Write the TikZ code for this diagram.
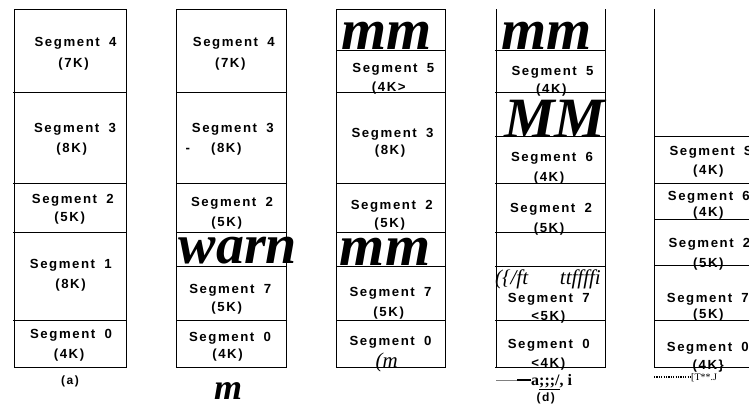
\documentclass[tikz,border=0pt]{standalone}
\usepackage{fontspec}
\newfontfamily\segf[LetterSpace=12]{Liberation Sans}
\newfontfamily\ocrf{Liberation Serif}
\newcommand\Sg[1]{Segment\ \kern4pt#1}
\tikzset{
  seg/.style={font=\segf\bfseries\fontsize{13.2}{15}\selectfont, inner sep=0pt, anchor=base},
  segw/.style={seg, anchor=base west},
  capt/.style={font=\segf\bfseries\fontsize{12}{14}\selectfont, inner sep=0pt, anchor=base},
  ocrbig/.style={font=\ocrf\bfseries\itshape\fontsize{58}{60}\selectfont, inner sep=0pt, anchor=base},
  ocrsmall/.style={font=\ocrf\itshape\fontsize{21}{23}\selectfont, inner sep=0pt, anchor=base},
  wall/.style={line width=0.9pt, line cap=rect},
}
\begin{document}
\begin{tikzpicture}[x=1pt,y=-1pt]
\clip (0,0) rectangle (749,405);
\fill[white] (0,0) rectangle (749,405);
% ---- column (a)
\draw[wall] (14,9.3) rectangle (126.7,367.3);
\foreach \yy in {92.3,183.3,232.3,320.3} \draw[wall] (13,\yy) -- (126.7,\yy);
\node[seg] (a4) at (75.5,46.5) {\Sg{4}};
\node[seg] (a4k) at (73.5,67.5) {(7K)};
\node[seg] (a3) at (75,132.5) {\Sg{3}};
\node[seg] (a3k) at (71.7,152.5) {(8K)};
\node[seg] (a2) at (72.8,203.8) {\Sg{2}};
\node[seg] (a2k) at (69.7,221.8) {(5K)};
\node[seg] (a1) at (70.8,268.5) {\Sg{1}};
\node[seg] (a1k) at (70.5,288.5) {(8K)};
\node[seg] (a0) at (71,338.5) {\Sg{0}};
\node[seg] (a0k) at (69,358.5) {(4K)};
\node[capt] (acap) at (70,384.5) {(a)};
% ---- column (b)
\draw[wall] (176.7,9.3) rectangle (286,367.3);
\foreach \yy in {92.3,183.3,232.3,266.7,320.3} \draw[wall] (176.7,\yy) -- (287,\yy);
\node[seg] (b4) at (233.8,46.5) {\Sg{4}};
\node[seg] (b4k) at (230.3,67.5) {(7K)};
\node[seg] (b3) at (232.8,132.5) {\Sg{3}};
\node[seg] (bdash) at (187.7,152.5) {-};
\node[seg] (b3k) at (226.3,152.5) {(8K)};
\node[seg] (b2) at (232,206.2) {\Sg{2}};
\node[seg] (b2k) at (226.7,226.2) {(5K)};
\node[ocrbig,font=\ocrf\bfseries\itshape\fontsize{56}{58}\selectfont] (bwarn) at (238,263) {warn};
\node[seg] (b7) at (230.2,293.2) {\Sg{7}};
\node[seg] (b7k) at (226.7,311.2) {(5K)};
\node[seg] (b0) at (230,341.8) {\Sg{0}};
\node[seg] (b0k) at (227.5,358.5) {(4K)};
\node[ocrbig,font=\ocrf\bfseries\itshape\fontsize{36}{38}\selectfont] (bm) at (228,399) {m};
% ---- column (c)
\draw[wall] (336,9.3) rectangle (445.7,367.3);
\foreach \yy in {50.7,92.3,183.3,232.3,266.7,320.3} \draw[wall] (336,\yy) -- (445.7,\yy);
\node[ocrbig] (cmm1) at (386.7,49) {mm};
\node[seg] (c5) at (393.3,72.2) {\Sg{5}};
\node[seg] (c5k) at (388.8,91.2) {(4K>};
\node[seg] (c3) at (392.5,137.8) {\Sg{3}};
\node[seg] (c3k) at (390,154.2) {(8K)};
\node[seg] (c2) at (391.7,209.5) {\Sg{2}};
\node[seg] (c2k) at (389.7,227.2) {(5K)};
\node[ocrbig] (cmm2) at (385,265) {mm};
\node[seg] (c7) at (390.5,296.5) {\Sg{7}};
\node[seg] (c7k) at (388.7,316.2) {(5K)};
\node[seg] (c0) at (390.5,345.2) {\Sg{0}};
\node[ocrsmall] (cm) at (386.7,367) {(m};
% ---- column (d)
\draw[wall] (496,9.3) -- (496,367.3);
\draw[wall] (605.7,9.3) -- (605.7,367.3);
\foreach \yy in {50.7,92.3,136,183.3,232.3,266.7,320.3,367.3} \draw[wall] (495,\yy) -- (605.7,\yy);
\node[ocrbig] (dmm) at (546.7,49) {mm};
\node[seg] (d5) at (552.5,75.2) {\Sg{5}};
\node[seg] (d5k) at (551.3,93.8) {(4K)};
\node[ocrbig,font=\ocrf\bfseries\itshape\fontsize{57}{60}\selectfont] (dMM) at (555,137) {MM};
\node[seg] (d6) at (552,161.2) {\Sg{6}};
\node[seg] (d6k) at (549,181.2) {(4K)};
\node[seg] (d2) at (551,212.8) {\Sg{2}};
\node[seg] (d2k) at (549,232.2) {(5K)};
\node[ocrsmall,anchor=base west] (dft) at (495,284) {(\{/ft};
\node[ocrsmall,anchor=base east] (dtt) at (601,284) {ttffffi};
\node[seg] (d7) at (548.7,302.2) {\Sg{7}};
\node[seg] (d7k) at (548.3,320.5) {<5K)};
\node[seg] (d0) at (548.7,348.8) {\Sg{0}};
\node[seg] (d0k) at (548.3,367.8) {<4K)};
\coordinate (dl0) at (496,380);
\coordinate (dl1) at (517,380);
\node[font=\ocrf\bfseries\fontsize{16}{18}\selectfont, inner sep=0pt, anchor=base west] (dai) at (531,385) {a\underline{;;;/}, i};
\draw[gray, line width=0.8pt] (dl0) -- (dl1);
\draw[line width=1.4pt] (dl1) -- (dai.west |- dl1);
\node[capt] (dcap) at (545.7,401) {(d)};
% ---- column (e)
\draw[wall] (654,9.3) -- (654,367.3);
\foreach \yy in {136,183.3,219,265,320.7,367.3} \draw[wall] (654,\yy) -- (760,\yy);
\node[segw] (eS) at (669.3,155.2) {Segment\ \kern4pt S};
\node[seg] (eSk) at (708.3,174.5) {(4K)};
\node[segw] (e6) at (667.7,200.5) {\Sg{6}};
\node[seg] (e6k) at (708.3,216.2) {(4K)};
\node[segw] (e2) at (668.3,247.8) {\Sg{2}};
\node[seg] (e2k) at (708.3,267.2) {(5K)};
\node[segw] (e7) at (666.7,302.8) {\Sg{7}};
\node[seg] (e7k) at (708.3,318.5) {(5K)};
\node[segw] (e0) at (666.7,351.2) {\Sg{0}};
\node[seg] (e0k) at (708.3,369.5) {(4K\}};
\coordinate (edot) at (654,377);
\node[font=\ocrf\fontsize{10}{12}\selectfont, inner sep=0pt, anchor=base west] (eT) at (691,380) {[T**.J};
\draw[line width=1.6pt, dash pattern=on 1.2pt off 1.2pt] (edot) -- (eT.west |- edot);
\end{tikzpicture}
\end{document}
